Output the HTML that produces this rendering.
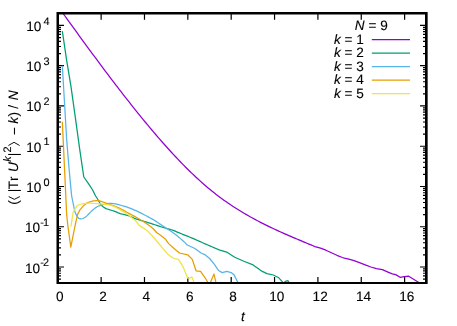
<!DOCTYPE html>
<html><head><meta charset="utf-8"><title>plot</title>
<style>html,body{margin:0;padding:0;background:#fff}svg{display:block}</style>
</head><body>
<div style="will-change:transform;width:457px;height:326px;background:#fff">
<svg width="457" height="326" viewBox="0 0 457 326">
<defs><clipPath id="pc"><rect x="58.0" y="13.0" width="368.0" height="270.0"/></clipPath></defs>
<rect x="0" y="0" width="457" height="326" fill="#ffffff"/>
<path d="M58.00,283.03h3.00M426.00,283.03h-3.00M58.00,279.13h3.00M426.00,279.13h-3.00M58.00,275.94h3.00M426.00,275.94h-3.00M58.00,273.25h3.00M426.00,273.25h-3.00M58.00,270.91h3.00M426.00,270.91h-3.00M58.00,268.85h3.00M426.00,268.85h-3.00M58.00,267.01h6.00M426.00,267.01h-6.00M58.00,254.89h3.00M426.00,254.89h-3.00M58.00,247.80h3.00M426.00,247.80h-3.00M58.00,242.77h3.00M426.00,242.77h-3.00M58.00,238.87h3.00M426.00,238.87h-3.00M58.00,235.68h3.00M426.00,235.68h-3.00M58.00,232.99h3.00M426.00,232.99h-3.00M58.00,230.65h3.00M426.00,230.65h-3.00M58.00,228.59h3.00M426.00,228.59h-3.00M58.00,226.75h6.00M426.00,226.75h-6.00M58.00,214.63h3.00M426.00,214.63h-3.00M58.00,207.54h3.00M426.00,207.54h-3.00M58.00,202.51h3.00M426.00,202.51h-3.00M58.00,198.61h3.00M426.00,198.61h-3.00M58.00,195.42h3.00M426.00,195.42h-3.00M58.00,192.73h3.00M426.00,192.73h-3.00M58.00,190.39h3.00M426.00,190.39h-3.00M58.00,188.33h3.00M426.00,188.33h-3.00M58.00,186.49h6.00M426.00,186.49h-6.00M58.00,174.37h3.00M426.00,174.37h-3.00M58.00,167.28h3.00M426.00,167.28h-3.00M58.00,162.25h3.00M426.00,162.25h-3.00M58.00,158.35h3.00M426.00,158.35h-3.00M58.00,155.16h3.00M426.00,155.16h-3.00M58.00,152.47h3.00M426.00,152.47h-3.00M58.00,150.13h3.00M426.00,150.13h-3.00M58.00,148.07h3.00M426.00,148.07h-3.00M58.00,146.23h6.00M426.00,146.23h-6.00M58.00,134.11h3.00M426.00,134.11h-3.00M58.00,127.02h3.00M426.00,127.02h-3.00M58.00,121.99h3.00M426.00,121.99h-3.00M58.00,118.09h3.00M426.00,118.09h-3.00M58.00,114.90h3.00M426.00,114.90h-3.00M58.00,112.21h3.00M426.00,112.21h-3.00M58.00,109.87h3.00M426.00,109.87h-3.00M58.00,107.81h3.00M426.00,107.81h-3.00M58.00,105.97h6.00M426.00,105.97h-6.00M58.00,93.85h3.00M426.00,93.85h-3.00M58.00,86.76h3.00M426.00,86.76h-3.00M58.00,81.73h3.00M426.00,81.73h-3.00M58.00,77.83h3.00M426.00,77.83h-3.00M58.00,74.64h3.00M426.00,74.64h-3.00M58.00,71.95h3.00M426.00,71.95h-3.00M58.00,69.61h3.00M426.00,69.61h-3.00M58.00,67.55h3.00M426.00,67.55h-3.00M58.00,65.71h6.00M426.00,65.71h-6.00M58.00,53.59h3.00M426.00,53.59h-3.00M58.00,46.50h3.00M426.00,46.50h-3.00M58.00,41.47h3.00M426.00,41.47h-3.00M58.00,37.57h3.00M426.00,37.57h-3.00M58.00,34.38h3.00M426.00,34.38h-3.00M58.00,31.69h3.00M426.00,31.69h-3.00M58.00,29.35h3.00M426.00,29.35h-3.00M58.00,27.29h3.00M426.00,27.29h-3.00M58.00,25.45h6.00M426.00,25.45h-6.00M58.00,13.33h3.00M426.00,13.33h-3.00M101.13,283.00v-6.00M101.13,13.00v6.70M144.48,283.00v-6.00M144.48,13.00v6.70M187.84,283.00v-6.00M187.84,13.00v6.70M231.19,283.00v-6.00M231.19,13.00v6.70M274.55,283.00v-6.00M274.55,13.00v6.70M317.91,283.00v-6.00M317.91,13.00v6.70M361.26,283.00v-6.00M361.26,13.00v6.70M404.62,283.00v-6.00M404.62,13.00v6.70" stroke="#000" stroke-width="1.2" fill="none"/>
<g clip-path="url(#pc)" fill="none" stroke-width="1.25" stroke-linejoin="round" stroke-linecap="butt">
<path d="M60.90,10.41L62.92,13.21L64.93,16.01L66.95,18.81L68.97,21.60L70.98,24.39L73.00,27.17L75.02,29.95L77.03,32.73L79.05,35.51L81.07,38.27L83.08,41.04L85.10,43.79L87.12,46.55L89.13,49.29L91.15,52.03L93.17,54.76L95.18,57.49L97.20,60.21L99.22,62.92L101.23,65.62L103.25,68.32L105.27,71.01L107.28,73.69L109.30,76.35L111.32,79.01L113.33,81.66L115.35,84.30L117.37,86.93L119.38,89.55L121.40,92.16L123.42,94.76L125.43,97.34L127.45,99.92L129.47,102.48L131.48,105.03L133.50,107.56L135.52,110.08L137.53,112.59L139.55,115.09L141.57,117.57L143.58,120.04L145.60,122.49L147.62,124.93L149.63,127.35L151.65,129.75L153.67,132.13L155.68,134.50L157.70,136.85L159.72,139.18L161.73,141.49L163.75,143.78L165.77,146.04L167.78,148.29L169.80,150.52L171.82,152.72L173.83,154.90L175.85,157.05L177.87,159.19L179.88,161.29L181.90,163.38L183.92,165.43L185.93,167.46L187.95,169.47L189.97,171.44L191.98,173.39L194.00,175.31L196.02,177.20L198.03,179.06L200.05,180.89L202.07,182.69L204.08,184.46L206.10,186.20L208.12,187.90L210.13,189.58L212.15,191.22L214.17,192.82L216.18,194.40L218.20,195.94L220.22,197.45L222.23,198.94L224.25,200.39L226.27,201.82L228.28,203.22L230.30,204.59L232.32,205.93L234.33,207.25L236.35,208.54L238.37,209.81L240.38,211.06L242.40,212.28L244.42,213.48L246.43,214.66L248.45,215.81L250.47,216.95L252.48,218.07L254.50,219.17L256.52,220.25L258.53,221.31L260.55,222.35L262.57,223.38L264.58,224.39L266.60,225.39L268.62,226.37L270.63,227.34L272.65,228.30L274.67,229.25L276.68,230.18L278.70,231.10L280.72,232.01L282.73,232.91L284.75,233.81L286.77,234.69L288.78,235.57L290.80,236.44L292.82,237.30L294.83,238.16L296.85,239.01L298.87,239.86L300.88,240.70L302.90,241.55L304.92,242.39L306.93,243.22L308.95,244.06L310.97,244.90L312.98,245.74L315.00,246.57M315.00,246.60L320.50,248.20L325.90,250.20L331.40,252.80L336.90,255.30L342.40,257.50L344.30,258.05L347.80,258.80L353.30,260.35L358.80,262.40L365.20,264.85L370.90,267.00L376.40,268.60L382.40,269.70L387.40,271.80L392.30,273.90L395.70,274.60L400.10,277.30L404.40,276.60L408.70,276.20L418.00,282.00L422.00,284.50" stroke="#9400d3"/>
<path d="M62.33,31.20L66.66,60.30L70.99,86.60L75.32,117.30L79.65,148.90L83.80,177.00L88.31,183.40L92.64,190.00L95.60,196.00L96.97,198.00L98.00,199.70L100.50,204.30L103.00,206.80L106.00,208.60L108.04,209.27L110.07,209.92L112.11,210.51L114.14,211.11L116.18,211.89L118.21,212.86L120.25,213.60L122.29,214.15L124.32,214.62L126.36,215.11L128.39,215.70L130.43,216.49L132.46,217.42L134.50,218.31L136.54,219.04L138.57,219.71L140.61,220.34L142.64,220.94L144.68,221.55L146.71,222.17L148.75,222.82L150.79,223.47L152.82,224.12L154.86,224.78L156.89,225.44L158.93,226.09L160.96,226.73L163.00,227.36L165.04,227.98L167.07,228.56L169.11,229.13L171.14,229.72L173.18,230.41L175.21,231.20L177.25,232.05L179.29,232.93L181.32,233.80L183.36,234.64L185.39,235.43L187.43,236.20L189.46,236.98L191.50,237.82L193.54,238.68L195.57,239.57L197.61,240.47L199.64,241.38L201.68,242.29L203.71,243.20L205.75,244.08L207.79,244.96L209.82,245.84L211.86,246.72L213.89,247.59L215.93,248.46L217.96,249.33L220.00,250.20L227.40,252.40L234.70,257.20L243.90,261.25L253.10,264.90L262.30,271.40L266.90,273.60L273.30,275.00L278.80,277.80L282.50,281.80L283.50,283.50L285.30,281.30L288.00,280.70L289.50,283.50" stroke="#009e73"/>
<path d="M62.33,65.70L66.66,139.50L69.10,169.00L70.70,186.40L71.66,196.00L73.50,205.20L74.90,211.65L76.70,215.80L78.74,218.45L80.79,218.95L82.83,218.51L84.87,217.50L86.91,215.87L88.96,213.78L91.00,211.65L93.04,209.76L95.08,208.12L97.13,206.75L99.17,205.80L101.21,205.06L103.25,204.51L105.30,204.04L107.34,203.64L109.38,203.41L111.42,203.42L113.47,203.53L115.51,203.78L117.55,204.37L119.59,204.93L121.64,205.49L123.68,206.08L125.72,206.71L127.76,207.39L129.81,208.14L131.85,208.95L133.89,209.80L135.94,210.69L137.98,211.62L140.02,212.62L142.06,213.65L144.11,214.71L146.15,215.79L148.19,216.87L150.23,217.97L152.28,219.11L154.32,220.31L156.36,221.60L158.40,222.99L160.45,224.39L162.49,225.74L164.53,227.05L166.57,228.35L168.62,229.69L170.66,231.08L172.70,232.52L174.74,234.00L176.79,235.54L178.83,237.16L180.87,238.89L182.91,240.73L184.96,242.67L187.00,244.70L190.00,246.20L194.90,248.50L201.05,253.00L204.70,254.60L209.65,258.50L214.60,264.65L218.25,270.20L222.20,272.60L226.85,271.40L231.15,272.60L234.20,275.10L237.30,281.20L238.40,284.00" stroke="#56b4e9"/>
<path d="M62.33,121.70L66.66,214.50L67.65,224.00L70.80,247.20L75.30,224.50L77.64,214.40L79.95,209.80L83.60,205.70L85.70,203.89L87.81,202.57L89.91,201.78L92.01,201.23L94.12,200.91L96.22,200.68L98.32,200.61L100.42,201.11L102.53,201.79L104.63,202.49L106.73,203.26L108.84,204.06L110.94,204.85L113.04,205.62L115.15,206.42L117.25,207.25L119.35,208.17L121.45,209.21L123.56,210.36L125.66,211.55L127.76,212.70L129.87,213.83L131.97,214.96L134.07,216.10L136.18,217.27L138.28,218.47L140.38,219.67L142.48,220.92L144.59,222.23L146.69,223.65L148.79,225.17L150.90,226.80L153.00,228.50L156.60,232.50L161.20,235.80L165.80,239.60L168.60,243.60L173.20,247.70L179.40,253.00L187.70,254.80L192.30,259.40L196.00,270.80L200.60,271.40L205.10,277.80L207.50,281.80L208.50,284.00M209.80,284.00L210.70,281.80L214.00,274.10L215.80,281.80L216.40,284.00" stroke="#e69f00"/>
<path d="M70.90,226.60L73.04,212.60L74.40,209.80L76.70,206.10L79.50,204.50L83.60,203.55L85.73,203.31L87.87,203.20L90.00,203.24L92.13,203.36L94.27,203.50L96.40,203.68L98.53,203.83L100.67,203.95L102.80,204.08L104.93,204.27L107.07,204.52L109.20,204.85L111.33,205.35L113.47,206.21L115.60,207.31L117.73,208.50L119.87,209.65L122.00,210.84L124.13,212.09L126.27,213.41L128.40,214.80L131.80,217.80L135.50,220.60L139.20,225.40L144.70,228.90L148.40,231.60L150.20,233.80L152.00,235.50L157.50,242.00L162.60,248.20L164.20,250.00L168.40,254.80L173.90,258.50L178.50,259.40L183.10,266.80L187.70,278.20L189.50,278.20L191.90,276.90L193.75,281.80L194.50,284.00" stroke="#f0e442"/>
</g>
<path d="M371.8,39.50H410.0" stroke="#9400d3" stroke-width="1.25" fill="none"/>
<path d="M371.8,53.00H410.0" stroke="#009e73" stroke-width="1.25" fill="none"/>
<path d="M371.8,66.50H410.0" stroke="#56b4e9" stroke-width="1.25" fill="none"/>
<path d="M371.8,80.00H410.0" stroke="#e69f00" stroke-width="1.25" fill="none"/>
<path d="M371.8,93.50H410.0" stroke="#f0e442" stroke-width="1.25" fill="none"/>
<path d="M56.5,12H427.65V284H56.5ZM59,14.5V282H425V14.5Z" fill="#000" fill-rule="evenodd"/>
<g font-family="'Liberation Sans', sans-serif" font-size="13.60" fill="#000" stroke="#000" stroke-width="0.12" text-rendering="geometricPrecision" style="filter:grayscale(1)">
<text x="59.80" y="300.5" text-anchor="middle">0</text>
<text x="103.09" y="300.5" text-anchor="middle">2</text>
<text x="146.39" y="300.5" text-anchor="middle">4</text>
<text x="189.68" y="300.5" text-anchor="middle">6</text>
<text x="232.98" y="300.5" text-anchor="middle">8</text>
<text x="276.87" y="300.5" text-anchor="middle">10</text>
<text x="320.16" y="300.5" text-anchor="middle">12</text>
<text x="363.46" y="300.5" text-anchor="middle">14</text>
<text x="406.75" y="300.5" text-anchor="middle">16</text>
<text x="242.9" y="321.2" text-anchor="middle" font-style="italic">t</text>
<text y="272.51"><tspan x="25.0">10</tspan><tspan font-size="10.90" x="40.2" dy="-6.4">-</tspan><tspan font-size="10.90" x="43.0">2</tspan></text>
<text y="232.25"><tspan x="25.0">10</tspan><tspan font-size="10.90" x="40.2" dy="-6.4">-</tspan><tspan font-size="10.90" x="43.0">1</tspan></text>
<text y="191.99"><tspan x="26.2">10</tspan><tspan font-size="10.90" x="43.5" dy="-6.4">0</tspan></text>
<text y="151.73"><tspan x="26.2">10</tspan><tspan font-size="10.90" x="43.5" dy="-6.4">1</tspan></text>
<text y="111.47"><tspan x="26.2">10</tspan><tspan font-size="10.90" x="43.5" dy="-6.4">2</tspan></text>
<text y="71.21"><tspan x="26.2">10</tspan><tspan font-size="10.90" x="43.5" dy="-6.4">3</tspan></text>
<text y="30.95"><tspan x="26.2">10</tspan><tspan font-size="10.90" x="43.5" dy="-6.4">4</tspan></text>
<text x="363.9" y="43.80" text-anchor="end"><tspan font-style="italic">k</tspan> = 1</text>
<text x="363.9" y="57.30" text-anchor="end"><tspan font-style="italic">k</tspan> = 2</text>
<text x="363.9" y="70.80" text-anchor="end"><tspan font-style="italic">k</tspan> = 3</text>
<text x="363.9" y="84.30" text-anchor="end"><tspan font-style="italic">k</tspan> = 4</text>
<text x="363.9" y="97.80" text-anchor="end"><tspan font-style="italic">k</tspan> = 5</text>
<text x="371.3" y="30.2" text-anchor="middle"><tspan font-style="italic">N</tspan> = 9</text>
<g transform="translate(18.25,204.8) rotate(-90)">
<text x="0.05" y="0.00">(</text>
<text x="12.50" y="0.00">|</text>
<text x="15.45" y="0.00">T</text>
<text x="23.75" y="0.00">r</text>
<text x="32.70" y="0.00" font-style="italic">U</text>
<text x="43.00" y="-7.50" font-style="italic" font-size="10.90">k</text>
<text x="48.53" y="0.00">|</text>
<text x="52.20" y="-7.50" font-size="10.90">2</text>
<text x="69.8" y="0.77">−</text>
<text x="81.10" y="0.00" font-style="italic">k</text>
<text x="88.30" y="0.00">)</text>
<text x="96.00" y="0.00">/</text>
<text x="104.55" y="0.00" font-style="italic">N</text>
<path d="M8.25,-9.55L5.45,-3.95L8.25,1.65M59.3,-9.85L62.5,-4.25L59.3,1.35" fill="none" stroke="#000" stroke-width="0.95" stroke-linejoin="miter"/>
</g>
</g>
</svg>
</div>
</body></html>
